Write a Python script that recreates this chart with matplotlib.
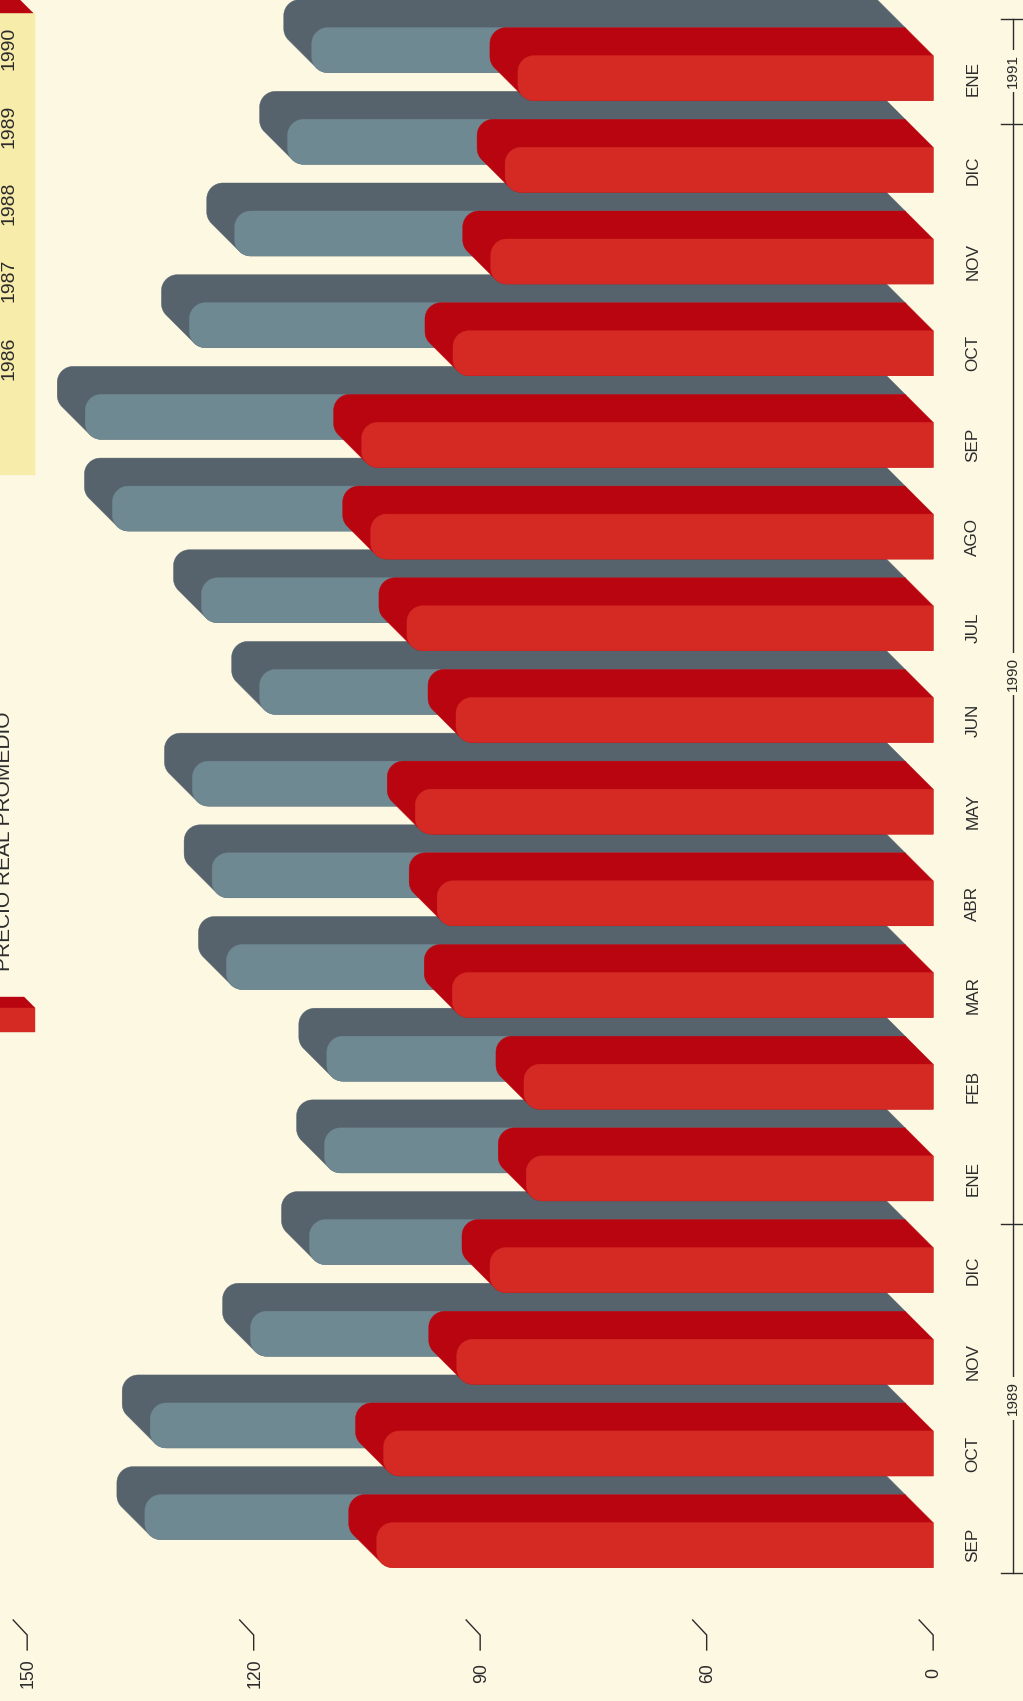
import numpy as np
import matplotlib
matplotlib.use("Agg")
import matplotlib.pyplot as plt
from matplotlib.patches import Polygon
import matplotlib.transforms as mtransforms

# ---------------- data ----------------
months = ["SEP", "OCT", "NOV", "DIC", "ENE", "FEB", "MAR", "ABR", "MAY",
          "JUN", "JUL", "AGO", "SEP", "OCT", "NOV", "DIC", "ENE"]
precio_real = [103.7, 102.8, 93.1, 88.7, 83.9, 84.2, 93.7, 95.7, 98.6,
               93.2, 99.7, 104.5, 105.7, 93.6, 88.6, 86.7, 85.0]
promedio_86_90 = [130.7, 130.0, 116.7, 108.9, 106.9, 106.6, 119.9, 121.8, 124.4,
                  115.5, 123.2, 135.0, 138.6, 124.8, 118.8, 111.8, 108.6]
value_ticks = [0, 60, 90, 120, 150]
value_tick_labels = ["0", "60", "90", "120", "150"]
years = ["1989", "1990", "1991"]
year_first_month = [0, 4, 16]
legend_years = ["1986", "1987", "1988", "1989", "1990"]
legend_label = "PRECIO REAL PROMEDIO"

# ---------------- style ----------------
BG = "#fcf8e2"
BAND = "#f7eca9"
RED_DARK = "#b9050f"
RED_LIGHT = "#d42a23"
GRAY_DARK = "#56626c"
GRAY_LIGHT = "#6f8993"
INK = "#2b2b2b"
W, H, DPI = 1023, 1701, 100
DX, DY = 28.0, 28.0      # depth offset of the 3-D extrusion (px)
HALF = 22.5              # half thickness of the front face (px)
RAD = 16.0               # corner radius (px)
SANS = ["Liberation Sans", "DejaVu Sans"]
NARROW = ["Liberation Sans Narrow", "Liberation Sans", "DejaVu Sans"]

fig = plt.figure(figsize=(W / DPI, H / DPI), dpi=DPI)
fig.patch.set_facecolor(BG)
ax = fig.add_axes([0, 0, 1, 1])
ax.set_axis_off()


# broken value axis: 0..60 compressed into one step, then 30 per step
def fwd(v):
    v = np.asarray(v, dtype=float)
    return np.where(v <= 60, v / 60.0, 1.0 + (v - 60.0) / 30.0)


def inv(s):
    s = np.asarray(s, dtype=float)
    return np.where(s <= 1, s * 60.0, 60.0 + (s - 1.0) * 30.0)


ax.set_xscale("function", functions=(fwd, inv))
ax.set_xlim(153.6, -23.8)
ax.set_ylim(-1.700, 16.852)
T = ax.transData
ID = mtransforms.IdentityTransform()


def rounded_pts(xt, xb, yb, yt, r, n=14):
    pts = [(xb, yb)]
    for a in np.linspace(-np.pi / 2, -np.pi, n):
        pts.append((xt + r + r * np.cos(a), yb + r + r * np.sin(a)))
    for a in np.linspace(np.pi, np.pi / 2, n):
        pts.append((xt + r + r * np.cos(a), yt - r + r * np.sin(a)))
    pts.append((xb, yt))
    return np.array(pts)


def hull(points):
    pts = sorted(set((round(float(x), 4), round(float(y), 4)) for x, y in points))

    def cross(o, a, b):
        return (a[0] - o[0]) * (b[1] - o[1]) - (a[1] - o[1]) * (b[0] - o[0])

    lower, upper = [], []
    for p in pts:
        while len(lower) >= 2 and cross(lower[-2], lower[-1], p) <= 0:
            lower.pop()
        lower.append(p)
    for p in reversed(pts):
        while len(upper) >= 2 and cross(upper[-2], upper[-1], p) <= 0:
            upper.pop()
        upper.append(p)
    return np.array(lower[:-1] + upper[:-1])


def add_poly(pts, color):
    fig.add_artist(Polygon(pts, closed=True, transform=ID, facecolor=color,
                           edgecolor=color, linewidth=0.3, antialiased=True))


def draw_bar(value, idx, depth, dark, light):
    x_tip, yc = T.transform((value, idx))
    x_base, _ = T.transform((0, idx))
    x_tip -= depth * DX
    x_base -= depth * DX
    yc += depth * DY
    front = rounded_pts(x_tip, x_base, yc - HALF, yc + HALF, RAD)
    back = front + np.array([-DX, DY])
    add_poly(hull(np.vstack([front, back])), dark)
    add_poly(front, light)


for i in range(len(months)):
    draw_bar(promedio_86_90[i], i, 1, GRAY_DARK, GRAY_LIGHT)
    draw_bar(precio_real[i], i, 0, RED_DARK, RED_LIGHT)

# month labels
ytrans = ax.get_yaxis_transform()
for i, m in enumerate(months):
    ax.text(0.951, i, m, transform=ytrans, rotation=90, ha="center", va="center",
            fontsize=12.3, family=NARROW, color=INK)

# year axis
XLINE = 1013.0
bounds = [-0.3] + [f - 0.5 for f in year_first_month[1:]] + [len(months) - 1 + 0.65]
y_lo = T.transform((0, bounds[0]))[1]
y_hi = T.transform((0, bounds[-1]))[1]
fig.add_artist(plt.Line2D([XLINE, XLINE], [y_lo, y_hi], transform=ID, color=INK, lw=1.0))
for b in bounds:
    yb = T.transform((0, b))[1]
    fig.add_artist(plt.Line2D([XLINE - 12, XLINE + 12], [yb, yb], transform=ID,
                              color=INK, lw=1.0))
for k, yr in enumerate(years):
    mid = (bounds[k] + bounds[k + 1]) / 2.0
    ym = T.transform((0, mid))[1]
    fig.text(XLINE, ym, yr, transform=ID, rotation=90, ha="center", va="center",
             fontsize=11, family=SANS, color=INK,
             bbox=dict(facecolor=BG, edgecolor="none", pad=3))

# value scale
for v, lab in zip(value_ticks, value_tick_labels):
    xv = T.transform((v, 0))[0]
    fig.add_artist(plt.Line2D([xv - 14, xv, xv], [H - 1620, H - 1635, H - 1650],
                              transform=ID, color=INK, lw=1.0))
    fig.text(xv + 1, H - 1673, lab, transform=ID, rotation=90, ha="center",
             va="center", fontsize=12.7, family=SANS, color=INK)

# legend (cut by the page edge, as in the original)
add_poly(np.array([[0, H - 13], [35, H - 13], [35, H - 475], [0, H - 475]]), BAND)
add_poly(np.array([[0, H], [20, H], [33, H - 13], [0, H - 13]]), RED_DARK)
for k, yr in enumerate(legend_years):
    fig.text(9, H - (358 - k * 77.3), yr, transform=ID, rotation=90, ha="center",
             va="center", fontsize=14, family=SANS, color=INK)
add_poly(np.array([[0, H - 997], [24, H - 997], [35, H - 1008], [0, H - 1008]]), RED_DARK)
add_poly(np.array([[0, H - 1008], [35, H - 1008], [35, H - 1032], [0, H - 1032]]), RED_LIGHT)
fig.text(14.5, H - 841, legend_label, transform=ID, rotation=90, ha="right",
         va="center", fontsize=15, family=SANS, color=INK)

fig.savefig("out.png", dpi=DPI, facecolor=BG)
